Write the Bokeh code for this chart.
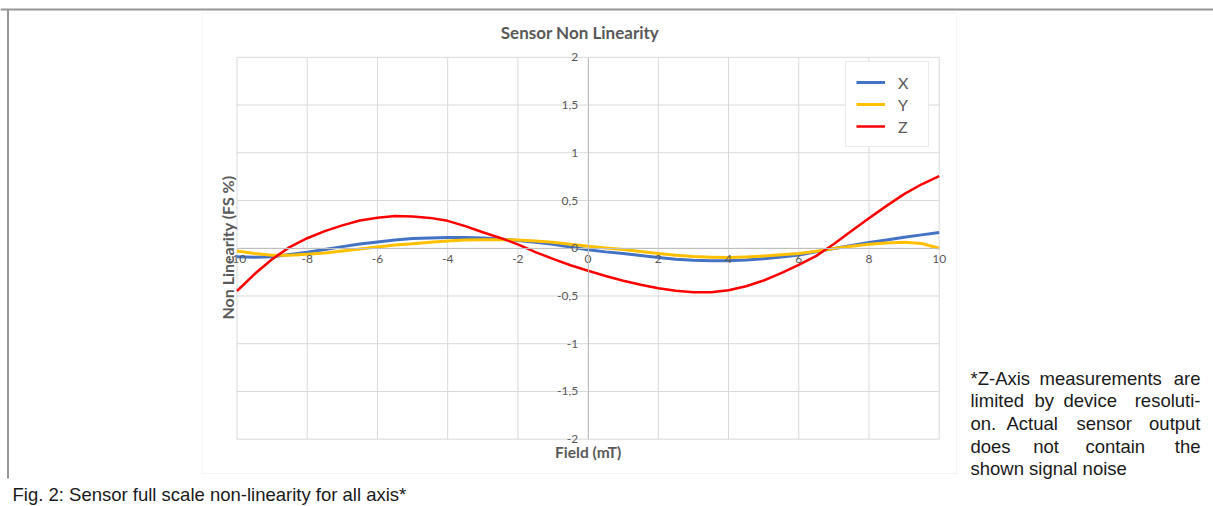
import numpy as np
from bokeh.plotting import figure
from bokeh.models import (Range1d, FixedTicker, CustomJSTickFormatter, Label,
                          Legend, LegendItem, BoxAnnotation, Span)
from bokeh.embed import file_html
from bokeh.resources import INLINE

# ---------------- data ----------------
field = [-10, -9.5, -9, -8.5, -8, -7.5, -7, -6.5, -6, -5.5, -5, -4.5, -4, -3.5, -3,
         -2.5, -2, -1.5, -1, -0.5, 0, 0.5, 1, 1.5, 2, 2.5, 3, 3.5, 4, 4.5, 5, 5.5,
         6, 6.5, 7, 7.5, 8, 8.5, 9, 9.5, 10]
x_axis = [-0.090, -0.095, -0.088, -0.066, -0.042, -0.012, 0.017, 0.045, 0.066, 0.087,
          0.102, 0.108, 0.112, 0.112, 0.108, 0.098, 0.082, 0.063, 0.042, 0.014,
          -0.015, -0.038, -0.056, -0.077, -0.098, -0.115, -0.126, -0.130, -0.130,
          -0.122, -0.109, -0.092, -0.070, -0.038, -0.003, 0.028, 0.060, 0.087,
          0.115, 0.140, 0.164]
y_axis = [-0.028, -0.056, -0.073, -0.074, -0.064, -0.050, -0.030, -0.008, 0.014, 0.033,
          0.048, 0.064, 0.076, 0.086, 0.090, 0.090, 0.087, 0.077, 0.063, 0.042,
          0.020, 0.002, -0.014, -0.035, -0.056, -0.073, -0.087, -0.094, -0.098,
          -0.091, -0.080, -0.068, -0.056, -0.031, -0.003, 0.021, 0.042, 0.056,
          0.063, 0.049, 0.000]
z_axis = [-0.448, -0.270, -0.115, 0.012, 0.105, 0.180, 0.240, 0.290, 0.320, 0.337,
          0.333, 0.318, 0.287, 0.232, 0.168, 0.108, 0.040, -0.040, -0.112, -0.178,
          -0.235, -0.290, -0.340, -0.383, -0.418, -0.446, -0.462, -0.461, -0.440,
          -0.398, -0.338, -0.260, -0.175, -0.080, 0.045, 0.180, 0.315, 0.444,
          0.567, 0.670, 0.756]
series_names = ["X", "Y", "Z"]
series_colors = ["#4472C4", "#FFC000", "#FF0000"]
x_ticks = [-10, -8, -6, -4, -2, 0, 2, 4, 6, 8, 10]
y_ticks = [-2, -1.5, -1, -0.5, 0, 0.5, 1, 1.5, 2]

title_text = "Sensor Non Linearity"
x_title = "Field (mT)"
y_title = "Non Linearity (FS %)"
caption = "Fig. 2: Sensor full scale non-linearity for all axis*"

# ---------------- layout (page pixels) ----------------
OFF = 0
W, H = 1213, 506
PX_L, PX_R = 236.5, 938.7     # x = -10 / 10
PY_T, PY_B = 56.8, 438.7      # y = 2 / -2
sx = (PX_R - PX_L) / (x_ticks[-1] - x_ticks[0])
sy = (PY_B - PY_T) / (y_ticks[-1] - y_ticks[0])
X0 = x_ticks[0] - (PX_L - OFF) / sx
X1 = X0 + W / sx
Y1 = y_ticks[-1] + (PY_T - OFF) / sy
Y0 = Y1 - H / sy


def dx(px):
    return X0 + (px - OFF) / sx


def dy(py):
    return Y1 - (py - OFF) / sy


p = figure(width=W, height=H, output_backend="svg", toolbar_location=None,
           x_range=Range1d(X0, X1), y_range=Range1d(Y0, Y1),
           min_border=0, min_border_left=0, min_border_right=0,
           min_border_top=0, min_border_bottom=0)
p.outline_line_color = None
p.background_fill_color = "white"
p.border_fill_color = "white"
p.xgrid.visible = False
p.ygrid.visible = False

# chart area box and page frame
p.add_layout(BoxAnnotation(left=dx(201.5), right=dx(956), top=dy(12.5), bottom=dy(473),
                           fill_color=None, fill_alpha=0, line_color="#d9d9d9",
                           line_width=1, level="underlay"))
p.add_layout(Span(location=dy(9), dimension="width", line_color="#969696", line_width=2))
p.segment(x0=[dx(7.5)], y0=[dy(9)], x1=[dx(7.5)], y1=[dy(478)], line_color="#969696",
          line_width=2)

# gridlines from tick arrays
n_x, n_y = len(x_ticks), len(y_ticks)
p.segment(x0=x_ticks, y0=[y_ticks[0]] * n_x, x1=x_ticks, y1=[y_ticks[-1]] * n_x,
          line_color="#d9d9d9", line_width=1)
p.segment(x0=[x_ticks[0]] * n_y, y0=y_ticks, x1=[x_ticks[-1]] * n_y, y1=y_ticks,
          line_color="#d9d9d9", line_width=1)

# axes crossing at zero
for ax, ticks in ((p.xaxis, x_ticks), (p.yaxis, y_ticks)):
    ax.fixed_location = 0
    ax.bounds = (ticks[0], ticks[-1])
    ax.ticker = FixedTicker(ticks=ticks)
    ax.major_tick_in = 0
    ax.major_tick_out = 0
    ax.minor_tick_in = 0
    ax.minor_tick_out = 0
    ax.axis_line_color = "#bfbfbf"
    ax.axis_line_width = 1
    ax.major_label_text_font = "Lato"
    ax.major_label_text_font_size = "12px"
    ax.major_label_text_color = "#595959"
p.xaxis.major_label_standoff = 7
p.yaxis.major_label_standoff = 10
p.yaxis.formatter = CustomJSTickFormatter(code="return String(tick).replace('.', ',');")
p.xaxis.formatter = CustomJSTickFormatter(code="return String(tick);")

# data lines
renderers = []
for vals, col, lw in ((x_axis, series_colors[0], 3), (y_axis, series_colors[1], 3),
                      (z_axis, series_colors[2], 2.5)):
    renderers.append(p.line(field, vals, line_color=col, line_width=lw,
                            line_join="round"))

# legend
items = [LegendItem(label=name, renderers=[r]) for name, r in zip(series_names, renderers)]
legend = Legend(items=items, location=(845 - OFF, H - (147 - OFF)),
                border_line_color="#d9d9d9", border_line_width=1,
                background_fill_color="white", background_fill_alpha=1,
                padding=10, spacing=2, margin=0,
                glyph_width=29, glyph_height=20, label_height=20,
                label_standoff=13, label_width=20,
                label_text_font="Lato", label_text_font_size="16px",
                label_text_color="#595959")
p.add_layout(legend)

# titles
p.add_layout(Label(x=dx(579.5), y=dy(32.3), text=title_text, text_align="center",
                   text_baseline="middle", text_font="Lato", text_font_style="bold",
                   text_font_size="17px", text_color="#595959"))
p.add_layout(Label(x=dx(587.7), y=dy(451.5), text=x_title, text_align="center",
                   text_baseline="middle", text_font="Lato", text_font_style="bold",
                   text_font_size="15.5px", text_color="#595959"))
p.add_layout(Label(x=dx(227), y=dy(247), text=y_title, text_align="center",
                   text_baseline="middle", angle=np.pi / 2, text_font="Lato",
                   text_font_style="bold", text_font_size="16px", text_color="#595959"))

# caption
p.add_layout(Label(x=dx(12), y=dy(494), text=caption, text_align="left",
                   text_baseline="alphabetic", text_font="Liberation Sans",
                   text_font_size="18.5px", text_color="#1a1a1a"))

# justified note (word positions)
note_lines = [
    (377.5, [("*Z-Axis", 970, "left"), ("measurements", 1039, "left"), ("are", 1200, "right")]),
    (400.2, [("limited", 970, "left"), ("by", 1034, "left"), ("device", 1063, "left"),
             ("resoluti-", 1200, "right")]),
    (422.9, [("on.", 970, "left"), ("Actual", 1006, "left"), ("sensor", 1076, "left"),
             ("output", 1200, "right")]),
    (445.6, [("does", 970, "left"), ("not", 1032.7, "left"), ("contain", 1085, "left"),
             ("the", 1200, "right")]),
    (468.3, [("shown signal noise", 970, "left")]),
]
for base, words in note_lines:
    for w, px, al in words:
        p.add_layout(Label(x=dx(px), y=dy(base), text=w, text_align=al,
                           text_baseline="alphabetic", text_font="Liberation Sans",
                           text_font_size="18.5px", text_color="#1a1a1a"))

open("out.html", "w").write(file_html(p, INLINE))
